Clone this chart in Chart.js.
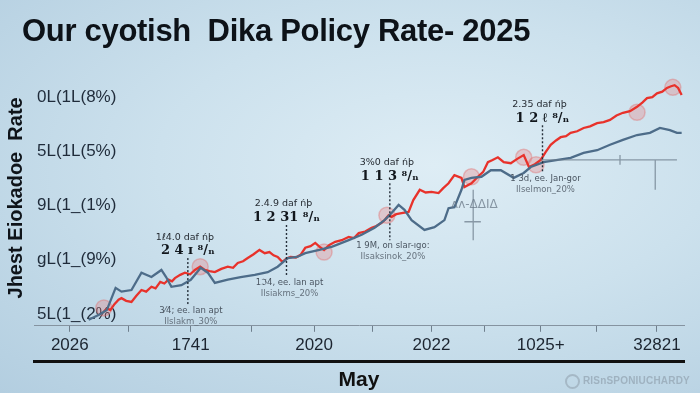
<!DOCTYPE html>
<html>
<head>
<meta charset="utf-8">
<script src="https://cdn.jsdelivr.net/npm/chart.js"></script>
<style>
html, body { margin: 0; padding: 0; overflow: hidden; }
#wrap { position: relative; width: 700px; height: 393px;
  background: radial-gradient(ellipse at 62% 42%, #deedf5 0%, #cce1ed 45%, #b3cee0 100%);
  font-family: "Liberation Sans", Arial, sans-serif; }
#title { position: absolute; left: 22px; top: 15px; font-weight: bold; font-size: 31px; line-height: 1; color: #0d1218; white-space: pre; letter-spacing: -0.3px; }
#mark { position: absolute; right: 10px; top: 374px; font-size: 10px; font-weight: bold; color: #9fb2c0; letter-spacing: 0.2px; }
#mark span { display: inline-block; width: 11px; height: 11px; border-radius: 50%; border: 2px solid #a5b8c6; vertical-align: middle; margin-right: 3px; }
canvas { position: absolute; left: 0; top: 0; }
</style>
</head>
<body>
<div id="wrap">
  <canvas id="chart" width="700" height="393"></canvas>
  <div id="title">Our cyotish  Dika Policy Rate- 2025</div>
  <div id="mark"><span></span>RISnSPONIUCHARDY</div>
</div>
<script>
// axis ticks (x is a position index, y the rate)
const xTickValues = [0, 1, 2.06, 3.1, 4.16, 5.16, 6.16, 7.07, 8.02, 8.97, 10]
const xTickLabels = ['2026', '', '1741', '', '2020', '', '2022', '', '1025+', '', '32821']
const yTickValues = [1, 2, 3, 4, 5]
const yTickLabels = ['5L(1_(2%)', 'gL(1_(9%)', '9L(1_(1%)', '5L(1L(5%)', '0L(1L(8%)']

// series as [x, y]
const redSeries = [
  [0.58,1.04],[0.64,1.10],[0.69,1.07],[0.76,1.18],[0.83,1.26],[0.88,1.29],[0.96,1.24],[1.05,1.22],
  [1.13,1.33],[1.22,1.44],[1.30,1.41],[1.39,1.50],[1.46,1.47],[1.54,1.59],[1.61,1.56],[1.68,1.63],
  [1.74,1.60],[1.79,1.66],[1.88,1.72],[1.96,1.76],[2.05,1.73],[2.13,1.81],[2.22,1.87],[2.30,1.81],
  [2.38,1.79],[2.47,1.77],[2.58,1.83],[2.69,1.87],[2.78,1.85],[2.86,1.94],[2.95,1.97],[3.03,2.03],
  [3.13,2.10],[3.23,2.18],[3.32,2.12],[3.40,2.14],[3.47,2.08],[3.54,2.05],[3.62,1.96],[3.69,2.02],
  [3.76,2.05],[3.85,2.04],[3.93,2.09],[4.01,2.22],[4.10,2.25],[4.18,2.31],[4.25,2.24],[4.33,2.18],
  [4.42,2.27],[4.52,2.33],[4.63,2.36],[4.75,2.42],[4.84,2.40],[4.92,2.49],[5.03,2.52],[5.14,2.59],
  [5.22,2.62],[5.31,2.68],[5.37,2.74],[5.43,2.82],[5.48,2.79],[5.56,2.84],[5.65,2.86],[5.77,2.88],
  [5.85,3.10],[5.96,3.29],[6.06,3.24],[6.16,3.25],[6.28,3.23],[6.36,3.32],[6.45,3.41],[6.55,3.56],
  [6.67,3.51],[6.72,3.34],[6.84,3.41],[6.95,3.53],[7.04,3.62],[7.12,3.80],[7.20,3.84],[7.29,3.89],
  [7.39,3.80],[7.51,3.78],[7.62,3.86],[7.73,3.93],[7.82,3.71],[7.92,3.76],[8.02,3.84],[8.10,3.98],
  [8.19,4.12],[8.28,4.20],[8.36,4.26],[8.45,4.28],[8.53,4.34],[8.64,4.37],[8.75,4.43],[8.86,4.46],
  [8.98,4.52],[9.09,4.54],[9.20,4.58],[9.31,4.66],[9.42,4.71],[9.54,4.74],[9.66,4.82],[9.75,4.90],
  [9.83,4.98],[9.92,5.00],[10.00,5.07],[10.09,5.10],[10.17,5.17],[10.24,5.20],[10.30,5.22],[10.36,5.17],
  [10.42,5.04]
]
const blueSeries = [
  [0.32,0.89],[0.49,0.98],[0.63,1.07],[0.78,1.48],[0.88,1.41],[1.05,1.44],[1.22,1.76],[1.39,1.68],
  [1.56,1.81],[1.64,1.68],[1.73,1.50],[1.90,1.53],[2.06,1.63],[2.23,1.85],[2.35,1.76],[2.47,1.57],
  [2.69,1.63],[2.91,1.68],[3.15,1.72],[3.37,1.77],[3.54,1.87],[3.71,2.03],[3.87,2.05],[4.01,2.12],
  [4.25,2.18],[4.47,2.24],[4.75,2.36],[4.97,2.46],[5.19,2.59],[5.36,2.73],[5.48,2.86],[5.60,3.01],
  [5.70,2.92],[5.82,2.73],[6.04,2.55],[6.21,2.60],[6.38,2.73],[6.45,2.95],[6.55,2.97],[6.67,3.29],
  [6.72,3.47],[6.84,3.51],[7.01,3.53],[7.17,3.65],[7.34,3.65],[7.56,3.51],[7.73,3.60],[7.85,3.71],
  [8.07,3.80],[8.31,3.84],[8.53,3.88],[8.75,3.97],[8.98,4.02],[9.20,4.12],[9.42,4.21],[9.66,4.30],
  [9.88,4.34],[10.05,4.43],[10.22,4.39],[10.34,4.34],[10.42,4.34]
]
const markerPts = [[0.58,1.11],[2.22,1.87],[4.33,2.14],[5.40,2.82],[6.84,3.53],[7.73,3.89],[7.94,3.75],[9.66,4.72],[10.27,5.18]]

// faint grey guide strokes (null = break)
const guideSeries = [
  [8.02,3.84],[10.34,3.84],[9.5,null],[9.37,3.93],[9.37,3.75],[9.6,null],[9.97,3.84],[9.97,3.29],[8,null],
  [6.87,3.29],[6.87,2.36],[6.8,null],[6.72,2.70],[7.00,2.70]
]
const guideLabel = [6.89, 3.01]
const guideText = 'ʌʌ-ΔΔIΔ'

// callouts
const calloutX = [2.01, 3.69, 5.45, 8.05]
const calloutTop = [2.03, 2.64, 3.41, 4.48]
const calloutBottom = [1.17, 1.68, 2.36, 3.60]
const calloutHead = ['1ℓ4.0 daf ńþ', '2.4.9 daf ńþ', '3%0 daf ńþ', '2.35 daf ńþ']
const calloutValue = ['2 4 ɪ ⁸/ₙ', '1 2 31 ⁸/ₙ', '1 1 3 ⁸/ₙ', '1 2 ℓ ⁸/ₙ']
const calloutNote = ['3⁄4; ee. lan apt', '1ℑ4, ee. lan apt', '1 9M, on slar-ıgo:', '1 3d, ee. Jan-gor']
const calloutSub = ['Ilslakm_30%', 'Ilsiakms_20%', 'Ilsaksinok_20%', 'Ilselmon_20%']

const toPts = arr => arr.map(p => ({ x: p[0], y: p[1] }))

const callouts = {
    id: 'callouts',
    afterDatasetsDraw(chart) {
        const { ctx, scales: { x, y } } = chart
        ctx.save()
        ctx.textAlign = 'center'
        ctx.textBaseline = 'middle'
        ctx.fillStyle = 'rgba(105,120,135,0.75)'
        ctx.font = '12px "DejaVu Sans"'
        ctx.fillText(guideText, x.getPixelForValue(guideLabel[0]), y.getPixelForValue(guideLabel[1]))
        calloutX.forEach((cx, i) => {
            const px = x.getPixelForValue(cx)
            const top = y.getPixelForValue(calloutTop[i])
            const bot = y.getPixelForValue(calloutBottom[i])
            ctx.strokeStyle = '#26303b'
            ctx.lineWidth = 1.4
            ctx.setLineDash([2, 2])
            ctx.beginPath()
            ctx.moveTo(px, top)
            ctx.lineTo(px, bot)
            ctx.stroke()
            ctx.setLineDash([])
            ctx.fillStyle = '#262c33'
            ctx.font = '9.5px "DejaVu Sans"'
            ctx.fillText(calloutHead[i], px - 3, top - 21)
            ctx.fillStyle = '#11161c'
            ctx.font = 'bold 13px "DejaVu Serif"'
            ctx.fillText(calloutValue[i], px, top - 7)
            ctx.fillStyle = '#4a5561'
            ctx.font = '8.5px "DejaVu Sans"'
            ctx.fillText(calloutNote[i], px + 3, bot + 6)
            ctx.fillStyle = '#66727e'
            ctx.fillText(calloutSub[i], px + 3, bot + 17)
        })
        ctx.restore()
    }
}

Chart.defaults.font.family = '"Liberation Sans", Arial, sans-serif'

new Chart(document.getElementById('chart'), {
    type: 'line',
    data: {
        datasets: [
            {
                data: toPts(guideSeries),
                borderColor: 'rgba(110,125,140,0.75)',
                borderWidth: 1.3,
                pointRadius: 0,
                spanGaps: false
            },
            {
                data: toPts(blueSeries),
                borderColor: '#4d6c89',
                borderWidth: 2.3,
                pointRadius: 0
            },
            {
                data: toPts(redSeries),
                borderColor: '#e8322b',
                borderWidth: 2.3,
                pointRadius: 0
            },
            {
                type: 'scatter',
                data: toPts(markerPts),
                pointRadius: 8,
                backgroundColor: 'rgba(235,120,120,0.3)',
                borderColor: 'rgba(225,110,110,0.4)',
                borderWidth: 1.5
            }
        ]
    },
    options: {
        responsive: false,
        animation: false,
        layout: { padding: { left: 4, right: 16, top: 70, bottom: 0 } },
        plugins: { legend: { display: false }, tooltip: { enabled: false } },
        scales: {
            x: {
                type: 'linear',
                min: -0.61,
                max: 10.46,
                weight: 0,
                afterBuildTicks: s => { s.ticks = xTickValues.map(v => ({ value: v })) },
                afterFit: s => { s.height = 36 },
                ticks: {
                    callback: (v, i) => xTickLabels[i],
                    font: { size: 17 },
                    color: '#1c2530',
                    padding: 3,
                    maxRotation: 0,
                    autoSkip: false
                },
                grid: { drawOnChartArea: false, drawTicks: true, tickLength: 6, color: '#6f7f8d' },
                border: { color: '#8593a0', width: 1 }
            },
            x2: {
                type: 'linear',
                position: 'bottom',
                weight: 1,
                min: 0,
                max: 1,
                ticks: { display: false },
                grid: { display: false, drawTicks: false },
                border: { display: true, color: '#111', width: 3 },
                title: {
                    display: true,
                    text: 'May',
                    font: { size: 21, weight: 'bold' },
                    color: '#111',
                    padding: { top: 6, bottom: 0 }
                }
            },
            y: {
                type: 'linear',
                min: 0.78,
                max: 5.5,
                afterBuildTicks: s => { s.ticks = yTickValues.map(v => ({ value: v })) },
                ticks: {
                    mirror: true,
                    padding: 3,
                    callback: (v, i) => yTickLabels[i],
                    font: { size: 17 },
                    color: '#1f2b3a'
                },
                grid: { display: false, drawTicks: false },
                border: { display: false },
                title: {
                    display: true,
                    text: 'Jhest Eiokadoe  Rate',
                    font: { size: 20, weight: 'bold' },
                    color: '#0f141a',
                    padding: 0
                }
            }
        }
    },
    plugins: [callouts]
});
</script>
</body>
</html>
